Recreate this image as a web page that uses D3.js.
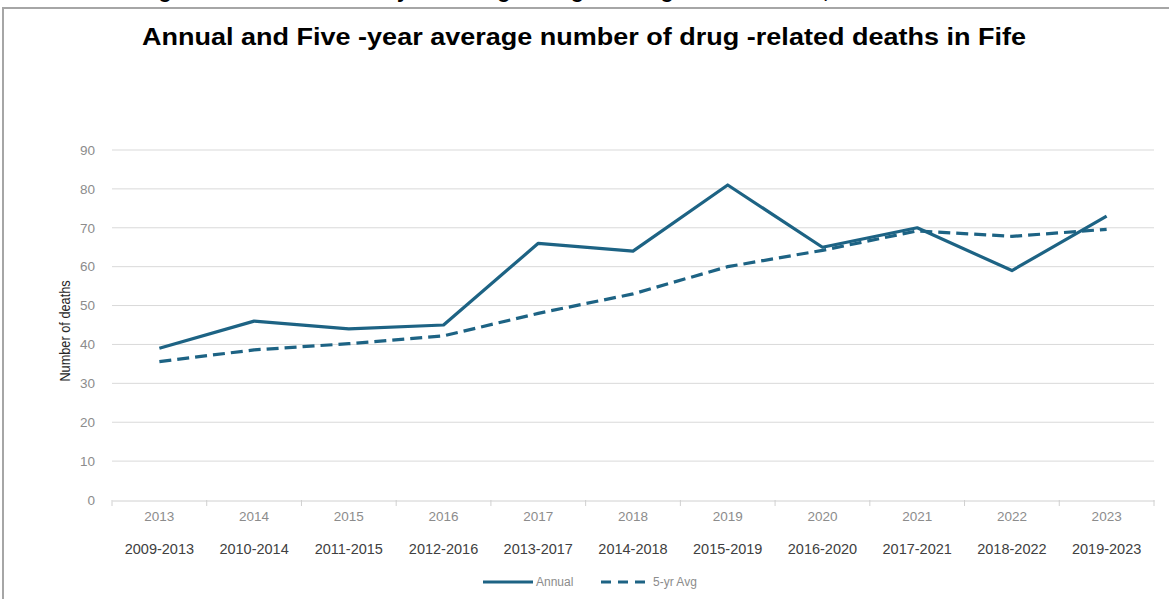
<!DOCTYPE html>
<html>
<head>
<meta charset="utf-8">
<script src="https://cdn.jsdelivr.net/npm/d3@7"></script>
<style>
  html, body { margin: 0; padding: 0; background: #fff; }
  svg { display: block; }
</style>
</head>
<body>
<svg id="chart" width="1169" height="599"></svg>
<script>
const years = ["2013","2014","2015","2016","2017","2018","2019","2020","2021","2022","2023"];
const periods = ["2009-2013","2010-2014","2011-2015","2012-2016","2013-2017","2014-2018","2015-2019","2016-2020","2017-2021","2018-2022","2019-2023"];
const annual = [39, 46, 44, 45, 66, 64, 81, 65, 70, 59, 73];
const fiveYrAvg = [35.6, 38.6, 40.2, 42.2, 48, 53, 60, 64.2, 69.2, 67.8, 69.6];
const yTicks = [0, 10, 20, 30, 40, 50, 60, 70, 80, 90];

const svg = d3.select("#chart");
const lineColor = "#1d6384";
const font = "Liberation Sans, Arial, sans-serif";

// cut-off caption above frame (only descenders visible in the reference)
svg.append("text")
  .attr("x", 140).attr("y", -2)
  .attr("font-family", font)
  .attr("font-weight", "bold").attr("font-size", 21)
  .attr("fill", "#000")
  .text("Figure 1: Annual and five-year rolling average of drug-related deaths, Fife");

// frame
svg.append("path")
  .attr("d", "M3,599 L3,8 L1175,8")
  .attr("fill", "none").attr("stroke", "#a6a6a6").attr("stroke-width", 2);

// title
svg.append("text")
  .attr("x", 584).attr("y", 45)
  .attr("text-anchor", "middle")
  .attr("font-family", font)
  .attr("font-weight", "bold").attr("font-size", 23)
  .attr("fill", "#000")
  .attr("textLength", 884).attr("lengthAdjust", "spacingAndGlyphs")
  .text("Annual and Five -year average number of drug -related deaths in Fife");

const x = d3.scaleBand().domain(years).range([112, 1154]).paddingInner(0).paddingOuter(0);
const y = d3.scaleLinear().domain([0, 90]).range([500, 150]);

// gridlines
svg.append("g").selectAll("line").data(yTicks.filter(d => d > 0)).join("line")
  .attr("x1", 112).attr("x2", 1154)
  .attr("y1", d => y(d)).attr("y2", d => y(d))
  .attr("stroke", "#d9d9d9").attr("stroke-width", 1);

// y axis labels
const yAxis = d3.axisLeft(y).tickValues(yTicks).tickSize(0).tickPadding(17);
const gy = svg.append("g").attr("transform", "translate(112,0)").call(yAxis);
gy.select(".domain").remove();
gy.selectAll("text")
  .attr("font-family", font)
  .attr("font-size", 13.5).attr("fill", "#8c8c8c");

// x axis
const xAxis = d3.axisBottom(x).tickSize(0).tickPadding(11);
const gx = svg.append("g").attr("transform", "translate(0,500.5)").call(xAxis);
gx.select(".domain").attr("stroke", "#d0d0d0");
gx.selectAll("text")
  .attr("font-family", font)
  .attr("font-size", 13.5).attr("fill", "#8c8c8c");
// band boundary ticks
const bounds = years.map(d => x(d)).concat([x(years[years.length - 1]) + x.bandwidth()]);
svg.append("g").selectAll("line").data(bounds).join("line")
  .attr("x1", d => d).attr("x2", d => d)
  .attr("y1", 500).attr("y2", 506)
  .attr("stroke", "#d0d0d0");

// period labels
svg.append("g").selectAll("text").data(periods).join("text")
  .attr("x", (d, i) => x(years[i]) + x.bandwidth() / 2)
  .attr("y", 554)
  .attr("text-anchor", "middle")
  .attr("font-family", font)
  .attr("font-size", 14.5).attr("fill", "#404040")
  .text(d => d);

// y axis title
svg.append("text")
  .attr("transform", "translate(70,331) rotate(-90) scale(0.85,1)")
  .attr("text-anchor", "middle")
  .attr("font-family", font)
  .attr("font-size", 15).attr("fill", "#262626")
  .text("Number of deaths");

// lines
const line = d3.line()
  .x((d, i) => x(years[i]) + x.bandwidth() / 2)
  .y(d => y(d));

svg.append("path").datum(fiveYrAvg)
  .attr("d", line).attr("fill", "none")
  .attr("stroke", lineColor).attr("stroke-width", 3.2)
  .attr("stroke-dasharray", "12,6");

svg.append("path").datum(annual)
  .attr("d", line).attr("fill", "none")
  .attr("stroke", lineColor).attr("stroke-width", 3.2)
  .attr("stroke-linejoin", "round");

// legend
const lg = svg.append("g");
lg.append("line").attr("x1", 483).attr("x2", 533).attr("y1", 582).attr("y2", 582)
  .attr("stroke", lineColor).attr("stroke-width", 3.2);
lg.append("text").attr("x", 536).attr("y", 586)
  .attr("font-family", font)
  .attr("font-size", 12).attr("fill", "#8c8c8c")
  .text("Annual");
lg.append("line").attr("x1", 601).attr("x2", 645).attr("y1", 582).attr("y2", 582)
  .attr("stroke", lineColor).attr("stroke-width", 3.2).attr("stroke-dasharray", "10,7");
lg.append("text").attr("x", 653).attr("y", 586)
  .attr("font-family", font)
  .attr("font-size", 12).attr("fill", "#8c8c8c")
  .text("5-yr Avg");
</script>
</body>
</html>
